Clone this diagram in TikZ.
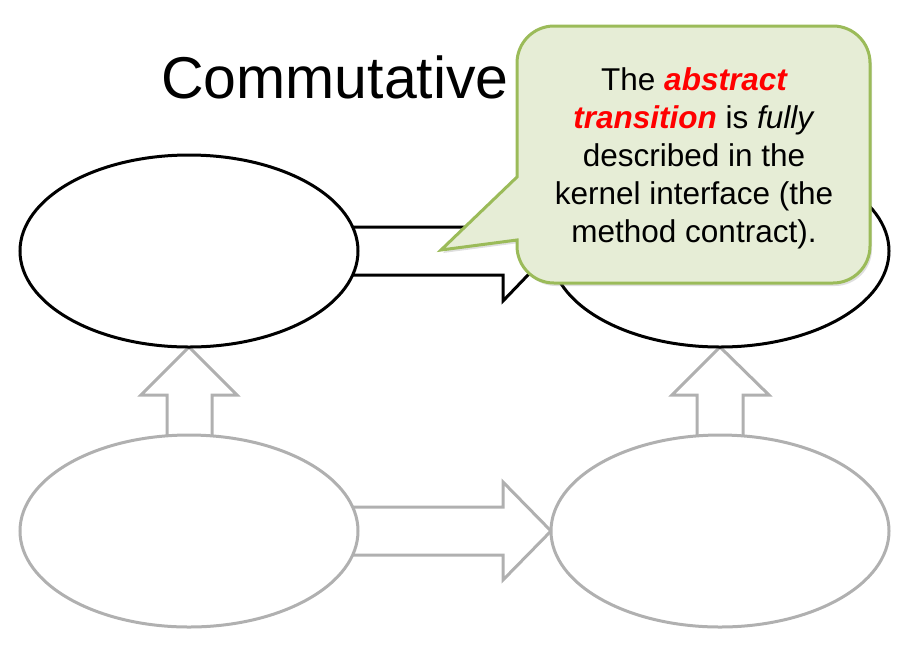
\documentclass[tikz,border=0pt]{standalone}
\usepackage{fontspec}
\setmainfont{Liberation Sans}
\usetikzlibrary{shapes.geometric,calc,shadows}
\definecolor{calloutfill}{HTML}{E6EDD6}
\definecolor{calloutline}{HTML}{9BBB59}
\definecolor{faded}{HTML}{B0B0B0}
\definecolor{hot}{HTML}{FF0000}
\begin{document}
\begin{tikzpicture}[x=1pt,y=-1pt,
  statebox/.style={ellipse,draw,line width=3pt,fill=white,minimum width=338pt,minimum height=192pt,inner sep=0pt},
  blockarrow/.style={line width=3pt,miter limit=10},
  callout/.style={draw=calloutline,fill=calloutfill,line width=3pt,
    drop shadow={opacity=0.25,shadow xshift=2pt,shadow yshift=-3pt}},
  callouttext/.style={align=center,font=\fontsize{31.5}{38}\selectfont,inner sep=0pt}]
\useasboundingbox (0,0) rectangle (904,657);

% title
\node[anchor=base west,inner sep=0pt,font=\fontsize{59}{66}\selectfont] (title) at (161,98) {Commutative};

% block arrows, drawn first so the state ellipses cover their tails
\coordinate (tlc) at (189,251);
\coordinate (blc) at (189,531);
\coordinate (brc) at (720,531);
\coordinate (trc) at (720,251);
\coordinate (tlw) at (551,251);
\coordinate (blw) at (551,531);
\coordinate (tls) at (189,347);
\coordinate (trs) at (720,347);

\draw[blockarrow,draw=black]
  ($(tlc)+(0,-24)$) -- ($(tlw)+(-48,-24)$) -- ($(tlw)+(-48,-50)$) -- (tlw)
  -- ($(tlw)+(-48,50)$) -- ($(tlw)+(-48,24)$) -- ($(tlc)+(0,24)$);
\draw[blockarrow,draw=faded]
  ($(blc)+(0,-24)$) -- ($(blw)+(-48,-24)$) -- ($(blw)+(-48,-49)$) -- (blw)
  -- ($(blw)+(-48,49)$) -- ($(blw)+(-48,24)$) -- ($(blc)+(0,24)$);
\draw[blockarrow,draw=faded]
  ($(blc)+(-22,0)$) -- ($(tls)+(-22,48)$) -- ($(tls)+(-48,48)$) -- (tls)
  -- ($(tls)+(48,48)$) -- ($(tls)+(23,48)$) -- ($(blc)+(23,0)$);
\draw[blockarrow,draw=faded]
  ($(brc)+(-23,0)$) -- ($(trs)+(-23,48)$) -- ($(trs)+(-48,48)$) -- (trs)
  -- ($(trs)+(49,48)$) -- ($(trs)+(23,48)$) -- ($(brc)+(23,0)$);

% states
\node[statebox,draw=black] (tl) at (tlc) {};
\node[statebox,draw=black] (tr) at (trc) {};
\node[statebox,draw=faded] (bl) at (blc) {};
\node[statebox,draw=faded] (br) at (brc) {};

% speech bubble: rounded box corners, sharp pointer
\draw[callout] (700,26) [rounded corners=37pt] -- (517,26) [sharp corners] -- (517,177)
  -- (441,250) -- (517,240) [rounded corners=37pt] -- (517,283) -- (870,283) -- (870,26) -- cycle;
\node[callouttext] (note) at (694,158) {The \textcolor{hot}{\bfseries\itshape abstract}\\
  \textcolor{hot}{\bfseries\itshape transition} is \textit{fully}\\
  described in the\\
  kernel interface (the\\
  method contract).};
\end{tikzpicture}
\end{document}
